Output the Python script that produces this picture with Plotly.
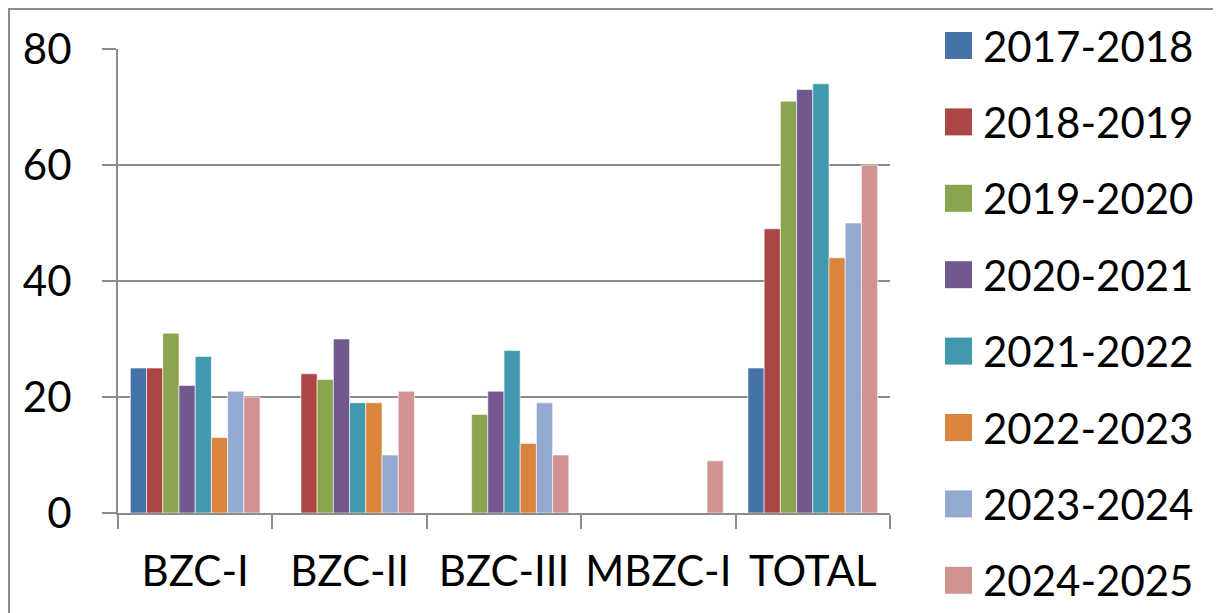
import plotly.graph_objects as go

categories = ["BZC-I", "BZC-II", "BZC-III", "MBZC-I", "TOTAL"]
series_names = ["2017-2018", "2018-2019", "2019-2020", "2020-2021",
                "2021-2022", "2022-2023", "2023-2024", "2024-2025"]
values = {
    "2017-2018": [25, 0, 0, 0, 25],
    "2018-2019": [25, 24, 0, 0, 49],
    "2019-2020": [31, 23, 17, 0, 71],
    "2020-2021": [22, 30, 21, 0, 73],
    "2021-2022": [27, 19, 28, 0, 74],
    "2022-2023": [13, 19, 12, 0, 44],
    "2023-2024": [21, 10, 19, 0, 50],
    "2024-2025": [20, 21, 10, 9, 60],
}
colors = ["#4572A7", "#AA4643", "#89A54E", "#71588F",
          "#4198AF", "#DB843D", "#93A9CF", "#D19392"]
y_ticks = [0, 20, 40, 60, 80]

FONT = "Lato"
FS = 42
W, H = 1221, 613
OFF = 8  # page offset of the figure inside the browser page
pw, ph = 772, 464
ml, mt = 118 - OFF, 49 - OFF
mr, mb = W - ml - pw, H - mt - ph


def px_x(p):  # page pixel -> paper x
    return (p - 118) / pw


def px_y(p):  # page pixel -> paper y
    return (513 - p) / ph


fig = go.Figure()
for name, col in zip(series_names, colors):
    fig.add_trace(go.Bar(
        x=categories, y=values[name], name=name,
        marker=dict(color=col, line=dict(color="white", width=0.6)),
        showlegend=False,
    ))

grid = "#8c8c8c"
shapes = [dict(
    type="rect", xref="paper", yref="paper",
    x0=px_x(9), x1=px_x(1240), y0=px_y(640), y1=px_y(9),
    line=dict(color=grid, width=2), fillcolor="rgba(0,0,0,0)",
    layer="below",
)]
annotations = []
# legend: swatches + labels
leg_top, leg_step, sw = 45.5, 76.4, 27
for i, (name, col) in enumerate(zip(series_names, colors)):
    cy = leg_top + leg_step * i
    shapes.append(dict(
        type="rect", xref="paper", yref="paper",
        x0=px_x(945), x1=px_x(945 + sw),
        y0=px_y(cy + sw / 2), y1=px_y(cy - sw / 2),
        line=dict(width=0), fillcolor=col,
    ))
    annotations.append(dict(
        xref="paper", yref="paper", x=px_x(981), y=px_y(cy),
        xanchor="left", yanchor="middle", text=name, showarrow=False,
        font=dict(family=FONT, size=FS, color="black"),
    ))

fig.update_layout(
    width=W, height=H,
    margin=dict(l=ml, r=mr, t=mt, b=mb, autoexpand=False),
    paper_bgcolor="white", plot_bgcolor="white",
    barmode="group", bargap=0.16, bargroupgap=0,
    font=dict(family=FONT, size=FS, color="black"),
    showlegend=False,
    xaxis=dict(
        showline=True, linecolor=grid, linewidth=2,
        ticks="outside", ticklen=14, tickcolor=grid, tickwidth=2,
        tickson="boundaries", ticklabelstandoff=21, automargin=False,
        tickangle=0, showgrid=False, tickfont=dict(size=FS, family=FONT),
    ),
    yaxis=dict(
        range=[0, 80], tickvals=y_ticks, showline=True, linecolor=grid,
        linewidth=2, ticks="outside", ticklen=14, tickcolor=grid,
        tickwidth=2, showgrid=True, gridcolor=grid, gridwidth=2,
        zeroline=False, ticklabelstandoff=22, automargin=False,
        tickfont=dict(size=FS, family=FONT),
    ),
    shapes=shapes,
    annotations=annotations,
)

fig.write_html("out.html")
